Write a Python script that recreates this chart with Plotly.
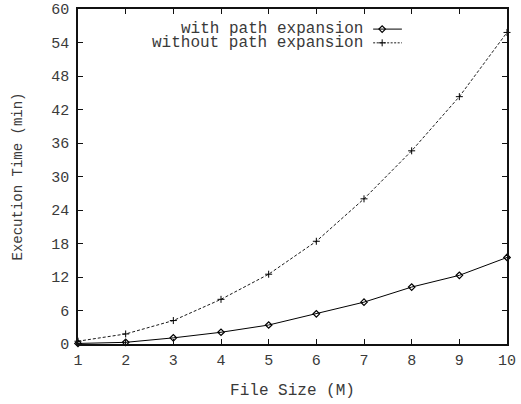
import plotly.graph_objects as go

file_size = [1, 2, 3, 4, 5, 6, 7, 8, 9, 10]
with_expansion = [0.1, 0.3, 1.1, 2.1, 3.4, 5.4, 7.5, 10.2, 12.3, 15.5]
without_expansion = [0.5, 1.8, 4.2, 8.0, 12.5, 18.4, 26.0, 34.6, 44.3, 55.8]
y_ticks = [0, 6, 12, 18, 24, 30, 36, 42, 48, 54, 60]
x_ticks = [1, 2, 3, 4, 5, 6, 7, 8, 9, 10]
names = ["with path expansion", "without path expansion"]

FONT = "Liberation Mono, Courier New, monospace"
TXT = "#3a3a3a"
fig = go.Figure()
fig.add_trace(go.Scatter(
    x=file_size, y=with_expansion, mode="lines+markers", name=names[0],
    line=dict(color="black", width=1),
    marker=dict(symbol="diamond-open", size=5, color="black", line=dict(width=1.2)),
    showlegend=False, cliponaxis=False))
fig.add_trace(go.Scatter(
    x=file_size, y=without_expansion, mode="lines+markers", name=names[1],
    line=dict(color="black", width=0.9, dash="3px,2px"),
    marker=dict(symbol="cross-thin", size=5, color="black", line=dict(width=1, color="black")),
    showlegend=False, cliponaxis=False))

# legend samples (text left, sample right) on an overlay axis spanning the plot area
leg_y = [0.940, 0.899]
for nm, yy in zip(names, leg_y):
    fig.add_annotation(xref="paper", yref="paper", x=0.669, y=yy, text=nm,
                       showarrow=False, xanchor="right", yanchor="middle",
                       font=dict(family=FONT, size=16, color=TXT))
fig.add_trace(go.Scatter(x=[0.688, 0.755], y=[leg_y[0]]*2, xaxis="x2", yaxis="y2",
                         mode="lines", line=dict(color="black", width=1), showlegend=False, hoverinfo="skip"))
fig.add_trace(go.Scatter(x=[0.709], y=[leg_y[0]], xaxis="x2", yaxis="y2", mode="markers",
                         marker=dict(symbol="diamond-open", size=5, color="black", line=dict(width=1.2)),
                         showlegend=False, hoverinfo="skip"))
fig.add_trace(go.Scatter(x=[0.688, 0.755], y=[leg_y[1]]*2, xaxis="x2", yaxis="y2",
                         mode="lines", line=dict(color="black", width=0.9, dash="2px,1.5px"), showlegend=False, hoverinfo="skip"))
fig.add_trace(go.Scatter(x=[0.709], y=[leg_y[1]], xaxis="x2", yaxis="y2", mode="markers",
                         marker=dict(symbol="cross-thin", size=5, color="black", line=dict(width=1, color="black")),
                         showlegend=False, hoverinfo="skip"))

axis_common = dict(showgrid=False, zeroline=False, showline=True, linecolor="#111", linewidth=1.5,
                   mirror="ticks", ticks="inside", ticklen=5, tickcolor="#111", tickwidth=1,
                   automargin=False, ticklabeloverflow="allow",
                   tickfont=dict(family=FONT, size=15, color=TXT))
fig.update_layout(
    width=521, height=404, paper_bgcolor="white", plot_bgcolor="white",
    margin=dict(l=78, r=14, t=9, b=60),
    font=dict(family=FONT, size=15, color=TXT),
    xaxis=dict(range=[1, 10], tickvals=x_ticks, ticklabelstandoff=1,
               title=dict(text="File Size (M)", standoff=15, font=dict(family=FONT, size=16, color=TXT)),
               **axis_common),
    yaxis=dict(range=[0, 60], tickvals=y_ticks, ticklabelstandoff=4,
               title=dict(text="Execution Time (min)", standoff=25, font=dict(family=FONT, size=14, color=TXT)),
               **axis_common),
    xaxis2=dict(overlaying="x", range=[0, 1], visible=False),
    yaxis2=dict(overlaying="y", range=[0, 1], visible=False),
    showlegend=False,
)
# remove the default 8px page margin so the figure fills the window exactly
fig.write_html("out.html", config={"displayModeBar": False},
               post_script="document.body.style.margin='0';")
